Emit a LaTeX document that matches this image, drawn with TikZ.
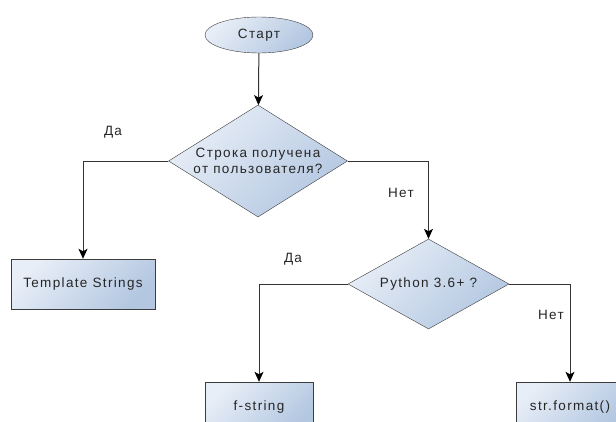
\documentclass[tikz,border=0pt]{standalone}
\usepackage{fontspec}
\setmainfont{Liberation Sans}[LetterSpace=10]
\usepackage{tikz}
\usetikzlibrary{shapes.geometric,arrows.meta,positioning}
\definecolor{shapelight}{HTML}{E8EEF7}
\definecolor{shapedark}{HTML}{B3C7E1}
\definecolor{edgegray}{HTML}{3C3C3C}

\tikzset{
  flowshape/.style={draw=edgegray, top color=shapelight, bottom color=shapedark, shading angle=45,
    font=\fontsize{13.5}{16}\selectfont, text=black!85, align=center, inner sep=0pt},
  startshape/.style={flowshape, ellipse, minimum width=108pt, minimum height=36pt},
  askshape/.style={flowshape, diamond, inner sep=-3pt},
  doshape/.style={flowshape, rectangle, minimum height=50pt},
  branchlabel/.style={font=\fontsize{13.5}{16}\selectfont, text=black!85, inner sep=0pt},
  flowarrow/.style={draw=black!80, line width=1pt, -{Stealth[width=9pt,length=10pt,inset=2.5pt,fill=black,color=black]}}
}

\begin{document}
\begin{tikzpicture}[x=1pt,y=-1pt]
      \useasboundingbox[fill=white] (0,0) rectangle (616,421);
      % Start
      \node[startshape] (start) at (259,35) {Старт};
      % Questions
      \node[askshape, aspect=1.6, minimum width=179pt, minimum height=112pt] (askinput) at (258,161) {Строка получена\\от пользователя?};
      \node[askshape, aspect=1.8, minimum width=161pt, minimum height=90pt] (askpython) at (428.5,284) {Python 3.6+ ?};
      % Results
      \node[doshape, minimum width=144pt] (tmpl) at (83,284) {Template Strings};
      \node[doshape, minimum width=108pt] (fstr) at (259,407) {f-string};
      \node[doshape, minimum width=108pt] (strfmt) at (570,407) {str.format()};
      % Branch labels
      \node[branchlabel] (yesone) at (113,132) {Да};
      \node[branchlabel] (noone) at (401,193) {Нет};
      \node[branchlabel] (yestwo) at (293,259) {Да};
      \node[branchlabel] (notwo) at (551,315) {Нет};
      % Connectors
      \draw[flowarrow] (start) -- (askinput);
      \draw[flowarrow] (askinput.west) -| (tmpl.north);
      \draw[flowarrow] (askinput.east) -| (askpython.north);
      \draw[flowarrow] (askpython.west) -| (fstr.north);
      \draw[flowarrow] (askpython.east) -| (strfmt.north);
    \end{tikzpicture}
\end{document}
